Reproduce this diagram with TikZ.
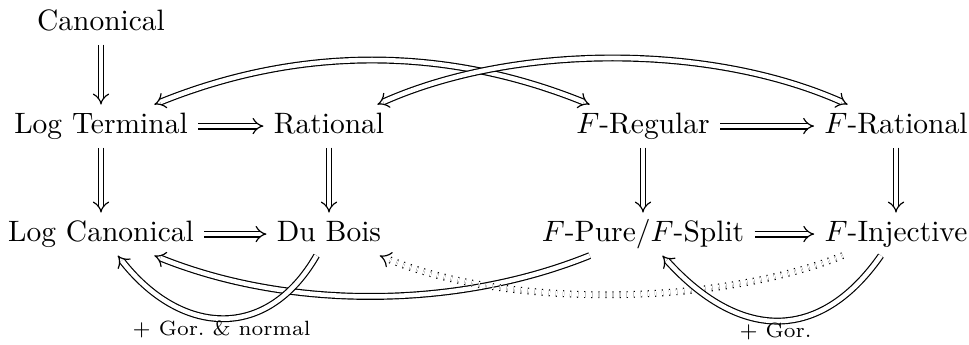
\documentclass[tikz,border=0pt]{standalone}
\usepackage{amsmath, amssymb}
\usetikzlibrary{arrows.meta}

\begin{document}
\begin{tikzpicture}[x=0.339pt, y=0.339pt,
      c/.style={anchor=base, text height=1.5ex, text depth=.25ex},
      imp/.style={double, double equal sign distance, -{Implies}},
      gl/.style={font=\scriptsize, below, inner sep=0.6pt}]
    \useasboundingbox (0,0) rectangle (969,345);
    % top row
    \node[c] (can)  at (101,314) {Canonical};
    % middle row
    \node[c] (lt)   at (101,211) {Log Terminal};
    \node[c] (rat)  at (329,211) {Rational};
    \node[c] (freg) at (643,211) {$F$-Regular};
    \node[c] (frat) at (896,211) {$F$-Rational};
    % bottom row
    \node[c] (lc)   at (101,103) {Log Canonical};
    \node[c] (db)   at (329,103) {Du Bois};
    \node[c] (fpur) at (643,103) {$F$-Pure/$F$-Split};
    \node[c] (finj) at (896,103) {$F$-Injective};
    % straight implications
    \draw[imp] (can) -- (lt);
    \draw[imp] (lt) -- (rat);
    \draw[imp] (freg) -- (frat);
    \draw[imp] (lc) -- (db);
    \draw[imp] (fpur) -- (finj);
    \draw[imp] (lt) -- (lc);
    \draw[imp] (rat) -- (db);
    \draw[imp] (freg) -- (fpur);
    \draw[imp] (frat) -- (finj);
    % equivalences on top
    \draw[imp, {Implies}-{Implies}] (lt) to[out=22, in=158, looseness=0.92] (freg);
    \draw[imp, {Implies}-{Implies}] (rat) to[out=24, in=156, looseness=0.82] (frat);
    % back arrows below
    \draw[imp] (fpur) to[out=-158, in=-22, looseness=0.85] (lc);
    \draw[imp, dotted] (finj) to[out=-158, in=-23, looseness=0.75] (db);
    \draw[imp] (db) to[out=-120, in=-52, looseness=1.3] node[gl] {$+$ Gor.\ \& normal} (lc);
    \draw[imp] (finj) to[out=-125, in=-48, looseness=1.3] node[gl] {$+$ Gor.} (fpur);
  \end{tikzpicture}
\end{document}
